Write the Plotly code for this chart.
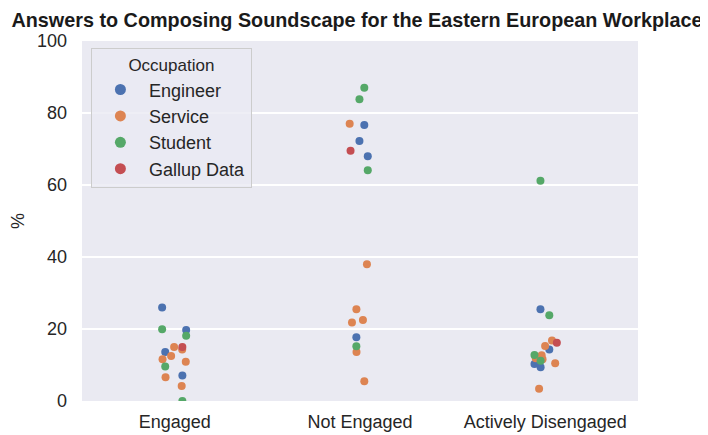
import plotly.graph_objects as go

categories = ["Engaged", "Not Engaged", "Actively Disengaged"]
occupations = ["Engineer", "Service", "Student", "Gallup Data"]

engineer_engaged = [26.0, 19.7, 13.6, 7.1]
engineer_not_engaged = [76.7, 72.2, 68.0, 17.7]
engineer_disengaged = [25.5, 14.3, 10.3, 9.4]

service_engaged = [15.0, 14.3, 12.5, 11.6, 10.9, 6.6, 4.2]
service_not_engaged = [77.0, 38.0, 25.5, 22.5, 21.8, 13.6, 5.5]
service_disengaged = [16.8, 15.3, 12.7, 11.9, 11.6, 10.5, 3.4]

student_engaged = [19.9, 18.1, 9.6, 0.0]
student_not_engaged = [87.0, 83.8, 64.1, 15.2]
student_disengaged = [61.2, 23.8, 12.8, 11.2]

gallup_engaged = [15.0]
gallup_not_engaged = [69.5]
gallup_disengaged = [16.2]

y_ticks = [0, 20, 40, 60, 80, 100]

colors = ["#4C72B0", "#DD8452", "#55A868", "#C44E52"]

series = [
    (engineer_engaged, engineer_not_engaged, engineer_disengaged),
    (service_engaged, service_not_engaged, service_disengaged),
    (student_engaged, student_not_engaged, student_disengaged),
    (gallup_engaged, gallup_not_engaged, gallup_disengaged),
]

FONT = "Liberation Sans, Arial, sans-serif"
TXT = "#262626"
W, H = 700, 427

fig = go.Figure()
for name, color, groups in zip(occupations, colors, series):
    xs, ys = [], []
    for cat, vals in zip(categories, groups):
        xs += [cat] * len(vals)
        ys += list(vals)
    fig.add_trace(go.Box(
        x=xs, y=ys, name=name, boxpoints="all", jitter=1, pointpos=0,
        width=0.16, whiskerwidth=0, fillcolor="rgba(0,0,0,0)",
        line=dict(width=0, color="rgba(0,0,0,0)"),
        marker=dict(color=color, size=8, line=dict(width=0)),
        showlegend=False, hoveron="points",
    ))
    fig.add_trace(go.Scatter(
        x=[None], y=[None], mode="markers", name=name,
        marker=dict(color=color, size=11), showlegend=True,
    ))

fig.update_layout(
    width=W, height=H,
    margin=dict(l=74, r=70, t=33, b=34, autoexpand=False),
    paper_bgcolor="white", plot_bgcolor="#EAEAF2",
    boxmode="overlay",
    font=dict(family=FONT, size=18, color=TXT),
    title=dict(
        text="<b>Answers to Composing Soundscape for the Eastern European Workplace</b>",
        x=349 / W, xref="container", xanchor="center",
        y=1 - 12 / H, yref="container", yanchor="middle",
        font=dict(family=FONT, size=19.8, color="#1a1a1a"),
    ),
    legend=dict(
        x=0.016, y=0.98, xanchor="left", yanchor="top",
        bgcolor="rgba(234,234,242,0.8)", bordercolor="#cccccc", borderwidth=1,
        font=dict(family=FONT, size=18, color=TXT),
        title=dict(text="Occupation", side="top center",
                   font=dict(family=FONT, size=17, color=TXT)),
        itemwidth=47,
        tracegroupgap=0,
    ),
    xaxis=dict(
        type="category", categoryorder="array", categoryarray=categories,
        range=[-0.5, 2.5], showgrid=False, zeroline=False,
        ticks="", ticklabelstandoff=8,
        tickfont=dict(family=FONT, size=18, color=TXT),
    ),
    yaxis=dict(
        range=[0, 100], tickvals=y_ticks, showgrid=True, gridcolor="white",
        gridwidth=1.5, zeroline=False, ticks="", ticklabelstandoff=14,
        tickfont=dict(family=FONT, size=18, color=TXT),
        title=dict(text="%", standoff=12, font=dict(family=FONT, size=18, color=TXT)),
    ),
)

fig.write_html("out.html")
